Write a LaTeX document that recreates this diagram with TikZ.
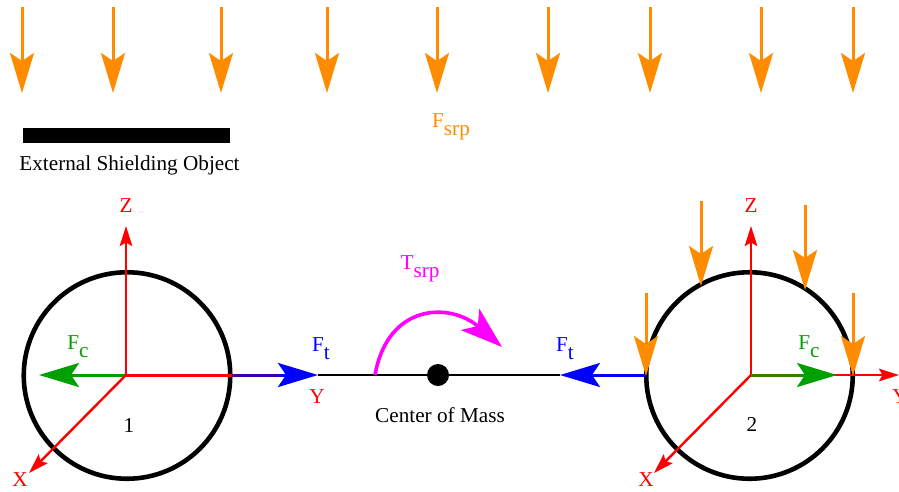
\documentclass[tikz,border=0pt]{standalone}
\usepackage{fontspec}
\setmainfont{Liberation Serif}
\usetikzlibrary{arrows.meta}
\definecolor{orng}{RGB}{255,140,0}
\definecolor{grn}{RGB}{0,160,0}
\definecolor{mag}{RGB}{255,0,255}
\definecolor{seamB}{RGB}{60,0,170}
\definecolor{seamG}{RGB}{50,130,0}
\newcommand{\lowsub}[1]{\raisebox{-8pt}{#1}}
\tikzset{
  big/.style={line width=3pt,-{Stealth[length=40pt,width=24pt,inset=8pt]}},
  small/.style={red,line width=2.4pt,-{Stealth[length=20pt,width=12.5pt,inset=3.5pt]}},
  orngarrow/.style={big,orng},
  sphere/.style={circle,draw=black,line width=4.6pt,minimum size=206.5pt,inner sep=0pt},
  lbl/.style={font=\fontsize{21.2}{23}\selectfont,inner sep=0pt},
}
\begin{document}
\begin{tikzpicture}[x=1pt,y=-1pt]
\useasboundingbox (0,0) rectangle (899,491);
\clip (0,0) rectangle (899,491);
% centre line
\coordinate (ftA) at (318,375);
\coordinate (ftB) at (560,375);
\draw[black,line width=2.5pt] (ftA) -- (ftB);
% spheres
\node[sphere] (s1) at (127,375.5) {};
\node[sphere] (s2) at (749.5,375.5) {};
\coordinate (o1) at (126,375);
\coordinate (o2) at (751,375);
\coordinate (z1) at (126,226);
\coordinate (z2) at (751,226);
\coordinate (x1) at (29,473);
\coordinate (x2) at (654,473);
\coordinate (y1) at (232,375);
\coordinate (y2) at (899,375);
\coordinate (fc1) at (39,375);
\coordinate (fc2) at (837,375);
\coordinate (e2) at (645,375);
% green / blue forces
\draw[big,grn] (o1) -- (fc1);
\draw[big,blue] (y1) -- (ftA);
\draw[seamB,line width=3pt] (y1) -- (280,375);
\draw[big,blue] (e2) -- (ftB);
% axes
\draw[small] (o1) -- (z1);
\draw[small] (o1) -- (x1);
\draw[red,line width=3pt] (o1) -- (y1);
\draw[small] (o2) -- (z2);
\draw[small] (o2) -- (x2);
\draw[small] (o2) -- (y2);
\draw[big,grn] (o2) -- (fc2);
\draw[seamG,line width=3pt] (o2) -- (800,375);
% centre of mass
\node[circle,fill=black,minimum size=22pt,inner sep=0pt] (com) at (438,375) {};
% torque
\coordinate (tA) at (375,375);
\coordinate (tB) at (502,347);
\draw[mag,line width=3.6pt,-{Stealth[length=42pt,width=28pt,inset=10pt]}] (tA) .. controls (388,303) and (450,302) .. (tB);
% solar arrows
\foreach \n/\xx in {a/22,b/113,c/221,d/327,e/437,f/548,g/650,h/761,i/853}{
  \coordinate (top\n) at (\xx,7);
  \coordinate (tip\n) at (\xx,93);
  \draw[orngarrow] (top\n) -- (tip\n);
}
\foreach \n/\xx/\ya/\yb in {p/646/293/376,q/701/201/286,r/805/205/290,s/853/293/376}{
  \coordinate (top\n) at (\xx,\ya);
  \coordinate (tip\n) at (\xx,\yb);
  \draw[orngarrow] (top\n) -- (tip\n);
}
% shield
\node[fill=black,minimum width=207pt,minimum height=15pt,inner sep=0pt,anchor=north west] (shield) at (23,128) {};
% labels
\node[lbl,black] (shieldt) at (129.5,165) {External Shielding Object};
\node[lbl,orng] (fsrp) at (451,127) {F\lowsub{srp}};
\node[lbl,mag] (tsrp) at (420,269) {T\lowsub{srp}};
\node[lbl,red] (lz1) at (126,206) {Z};
\node[lbl,red] (lz2) at (751,206) {Z};
\node[lbl,red] (ly1) at (317,397) {Y};
\node[lbl,red] (ly2) at (900,397) {Y};
\node[lbl,red] (lx1) at (20,480) {X};
\node[lbl,red] (lx2) at (646,480) {X};
\node[lbl,grn] (lfc1) at (78,347) {F\lowsub{c}};
\node[lbl,grn] (lfc2) at (809,347) {F\lowsub{c}};
\node[lbl,blue] (lft1) at (321,349) {F\lowsub{t}};
\node[lbl,blue] (lft2) at (565,349) {F\lowsub{t}};
\node[lbl,black] (n1) at (129,425) {1};
\node[lbl,black] (n2) at (752,424) {2};
\node[lbl,black] (comt) at (440,415) {Center of Mass};
\end{tikzpicture}
\end{document}
